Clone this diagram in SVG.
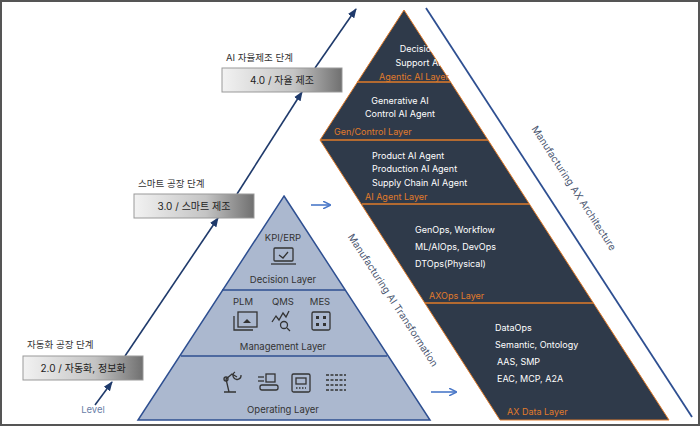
<svg xmlns="http://www.w3.org/2000/svg" width="700" height="426" viewBox="0 0 700 426">
<defs>
<linearGradient id="g" x1="0" y1="0" x2="1" y2="0"><stop offset="0" stop-color="#f2f2f2"/><stop offset="0.6" stop-color="#c4c4c4"/><stop offset="1" stop-color="#707070"/></linearGradient>
<marker id="ah" viewBox="0 0 10 10" refX="9" refY="5" markerWidth="6" markerHeight="6" orient="auto"><path d="M0,1 L10,5 L0,9 z" fill="#1f3a6b"/></marker>
<marker id="ab" viewBox="0 0 10 10" refX="9" refY="5" markerWidth="5" markerHeight="5" orient="auto"><path d="M0,0 L10,5 L0,10" fill="none" stroke="#4a78c8" stroke-width="1.8"/></marker>
</defs>
<style>
text{font-family:Inter,"Noto Sans","Noto Sans CJK KR",sans-serif}
.w{fill:#fff;font-size:9px}
.o{fill:#e07b2a;font-size:9px}
.k{fill:#333;font-size:9.5px}
.p{fill:#333;font-size:9.5px;text-anchor:middle}
.box{fill:url(#g);stroke:#999;stroke-width:1}
.bt{fill:#222;font-size:10px;text-anchor:middle}
.ol{stroke:#e07b2a;stroke-width:1.3}
.ic{fill:none;stroke:#333;stroke-width:1.3}
.rt{fill:#4a5670;font-size:10px;text-anchor:middle}
</style>
<rect x="1" y="1" width="698" height="424" fill="#fff" stroke="#555" stroke-width="2"/>

<g id="connectors" stroke="#1f3a6b" stroke-width="1.6" fill="none">
<line x1="95" y1="405" x2="112" y2="382" marker-end="url(#ah)"/>
<line x1="125" y1="356" x2="218" y2="218" marker-end="url(#ah)"/>
<line x1="237" y1="194" x2="302" y2="92" marker-end="url(#ah)"/>
<line x1="315" y1="68" x2="356" y2="9" marker-end="url(#ah)"/>
<line x1="311" y1="205" x2="330" y2="205" stroke="#4a78c8" marker-end="url(#ab)"/>
<line x1="431" y1="392" x2="456" y2="392" stroke="#4a78c8" marker-end="url(#ab)"/>
<line x1="426" y1="8" x2="692" y2="417" stroke="#2e4f91" stroke-width="1.8"/>
</g>

<g id="levels">
<text x="93" y="413" fill="#6a80a8" font-size="9.5px" text-anchor="middle">Level</text>
<text class="k" x="27" y="348">자동화 공장 단계</text>
<rect class="box" x="23" y="356" width="120" height="24"/>
<text class="bt" x="83" y="372">2.0 /  자동화, 정보화</text>
<text class="k" x="138" y="187">스마트 공장 단계</text>
<rect class="box" x="134" y="194" width="120" height="24"/>
<text class="bt" x="194" y="210">3.0 /  스마트 제조</text>
<text class="k" x="226" y="61">AI 자율제조 단계</text>
<rect class="box" x="222" y="68" width="120" height="24"/>
<text class="bt" x="282" y="84">4.0 /  자율 제조</text>
</g>

<g id="left-pyramid">
<polygon points="284,196 430,420 138,420" fill="#abb8cf" stroke="#2e4f91" stroke-width="1.5"/>
<line x1="222" y1="290" x2="345" y2="290" stroke="#2e4f91" stroke-width="1.5"/>
<line x1="181" y1="356" x2="387" y2="356" stroke="#2e4f91" stroke-width="1.5"/>
<text class="p" x="283" y="241" font-size="9px">KPI/ERP</text>
<rect class="ic" x="274" y="248" width="19" height="13" rx="1"/><line class="ic" x1="271" y1="264" x2="296" y2="264"/><polyline class="ic" points="279,255 283,258 288,252"/>
<text class="p" x="283" y="283">Decision Layer</text>
<text class="p" x="243" y="305" font-size="9px">PLM</text>
<text class="p" x="283" y="305" font-size="9px">QMS</text>
<text class="p" x="320" y="305" font-size="9px">MES</text>
<rect class="ic" x="238" y="312" width="19" height="15"/><path class="ic" d="M234,316 v14 h19"/><path d="M243,323 l4,-4 l4,4 z" fill="#333"/>
<polyline class="ic" points="272,322 276,316 279,320 283,313 286,317 289,311"/><circle class="ic" cx="284" cy="325" r="3.5"/><line class="ic" x1="287" y1="328" x2="290" y2="331"/>
<rect class="ic" x="312" y="312" width="18" height="18" rx="1.5"/><rect x="316" y="316" width="3" height="3" fill="#333"/><rect x="323" y="316" width="3" height="3" fill="#333"/><rect x="316" y="323" width="3" height="3" fill="#333"/><rect x="323" y="323" width="3" height="3" fill="#333"/>
<text class="p" x="283" y="350">Management Layer</text>
<path class="ic" d="M224,392 h12 M229,392 l-3,-13 l6,-5 l5,3 M235,372 a4,4 0 1,0 6,3"/><circle class="ic" cx="226" cy="379" r="2"/>
<rect class="ic" x="260" y="385" width="18" height="5" rx="2"/><rect class="ic" x="266" y="374" width="9" height="8"/><line class="ic" x1="258" y1="377" x2="264" y2="377"/><line class="ic" x1="258" y1="381" x2="264" y2="381"/>
<rect class="ic" x="292" y="374" width="18" height="18" rx="1.5"/><rect class="ic" x="296" y="378" width="10" height="6"/><line x1="296" y1="388" x2="306" y2="388" stroke="#333" stroke-width="1.3" stroke-dasharray="1.5,1.5"/>
<g stroke="#333" stroke-width="1.3" stroke-dasharray="3,1.5"><line x1="326" y1="375" x2="346" y2="375"/><line x1="326" y1="380" x2="346" y2="380"/><line x1="326" y1="385" x2="346" y2="385"/><line x1="326" y1="390" x2="346" y2="390"/></g>
<text class="p" x="283" y="413">Operating Layer</text>
<text class="rt" transform="translate(390,302) rotate(57)">Manufacturing AI Transformation</text>
</g>

<g id="ax-architecture">
<polygon points="404,10 669,420 500,420 320,140" fill="#2f3a4a" stroke="#e07b2a" stroke-width="1"/>
<line class="ol" x1="357" y1="82" x2="450" y2="82"/>
<line class="ol" x1="320" y1="140" x2="488" y2="140"/>
<line class="ol" x1="362" y1="204" x2="529" y2="204"/>
<line class="ol" x1="425" y1="303" x2="593" y2="303"/>
<text class="w" x="418" y="52" text-anchor="middle">Decision</text>
<text class="w" x="418" y="66" text-anchor="middle">Support AI</text>
<text class="o" x="414" y="80" text-anchor="middle">Agentic AI Layer</text>
<text class="w" x="400" y="104" text-anchor="middle">Generative AI</text>
<text class="w" x="400" y="117" text-anchor="middle">Control AI Agent</text>
<text class="o" x="334" y="135">Gen/Control Layer</text>
<text class="w" x="372" y="159">Product AI Agent</text>
<text class="w" x="372" y="172">Production AI Agent</text>
<text class="w" x="372" y="186">Supply Chain AI Agent</text>
<text class="o" x="365" y="200">AI Agent Layer</text>
<text class="w" x="415" y="233">GenOps, Workflow</text>
<text class="w" x="415" y="250">ML/AIOps, DevOps</text>
<text class="w" x="415" y="267">DTOps(Physical)</text>
<text class="o" x="429" y="299">AXOps Layer</text>
<text class="w" x="495" y="331">DataOps</text>
<text class="w" x="495" y="348">Semantic, Ontology</text>
<text class="w" x="497" y="365">AAS, SMP</text>
<text class="w" x="497" y="382">EAC, MCP, A2A</text>
<text class="o" x="507" y="415">AX Data Layer</text>
<text class="rt" transform="translate(571,190) rotate(57)">Manufacturing AX Architecture</text>
</g>
</svg>
